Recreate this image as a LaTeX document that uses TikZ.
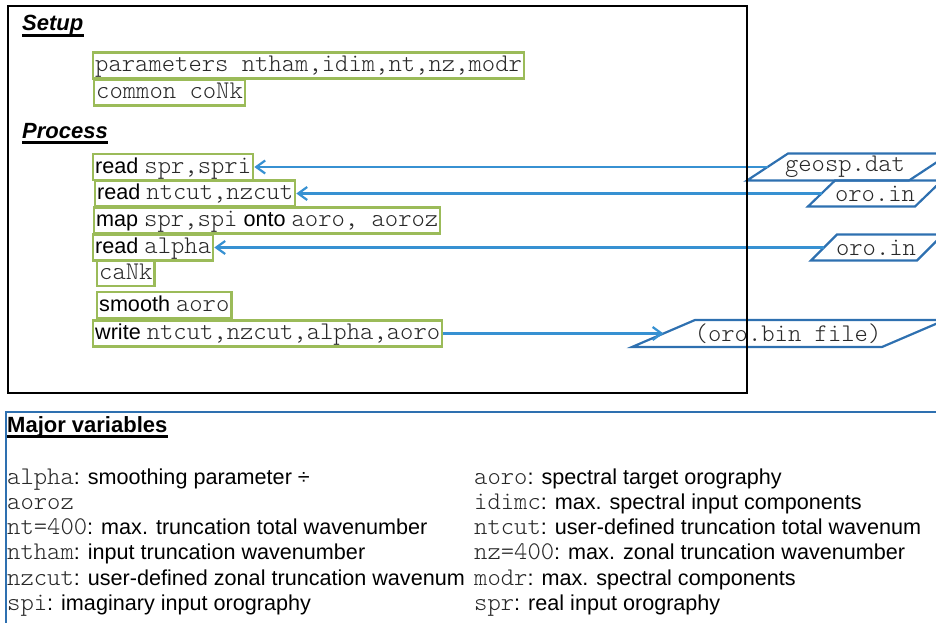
\documentclass[tikz,border=0pt]{standalone}
\usepackage{fontspec}
\setmainfont{Liberation Sans}
\setmonofont{Latin Modern Mono Light}
\usetikzlibrary{arrows.meta}
\definecolor{boxgreen}{RGB}{155,187,89}
\definecolor{flowblue}{RGB}{55,145,210}
\definecolor{fileblue}{RGB}{46,112,176}
\definecolor{codegray}{RGB}{40,40,40}
% code words in a typewriter face
\newcommand\cd[1]{{\ttfamily\fontsize{25.4}{28}\selectfont\color{codegray}#1}}
\begin{document}
\begin{tikzpicture}[x=1pt,y=-1pt,
  every node/.style={font=\fontsize{21.6}{25}\selectfont, inner sep=0pt},
  codebox/.style={draw=boxgreen, line width=2.4pt, inner xsep=2pt, inner ysep=1pt,
    text height=18pt, text depth=6pt, anchor=west},
  heading/.style={font=\bfseries\itshape\fontsize{22}{26}\selectfont, anchor=base west},
  filetext/.style={font=\ttfamily\fontsize{25.4}{28}\selectfont, text=codegray},
  fileshape/.style={draw=fileblue, line width=2.2pt, line join=miter},
  flow/.style={draw=flowblue, line width=2.2pt, -{Straight Barb[length=9pt,width=13pt]}},
  var/.style={anchor=base west}]
\useasboundingbox (0,0) rectangle (936,623);
\clip (0,0) rectangle (936,623);

% ---- headings ----
\node[heading] (setup) at (22,31) {Setup};
\node[heading] (process) at (22,138) {Process};
\foreach \h in {setup,process}
  \draw[line width=2.6pt] ([yshift=-4.5pt]\h.base west) -- ([yshift=-4.5pt]\h.base east);

% ---- setup statements ----
\node[codebox] (param) at (92,65.5) {\cd{parameters ntham,idim,nt,nz,modr}};
\node[codebox] (common) at (93,92.5) {\cd{common coNk}};

% ---- process statements ----
\node[codebox] (read1) at (92,167) {read \cd{spr,spri}};
\node[codebox] (read2) at (94,193.5) {read \cd{ntcut,nzcut}};
\node[codebox] (map) at (93,220.5) {map \cd{spr,spi} onto \cd{aoro, aoroz}};
\node[codebox] (read3) at (92,247.5) {read \cd{alpha}};
\node[codebox] (cank) at (96,273) {\cd{caNk}};
\node[codebox] (smooth) at (96,305) {smooth \cd{aoro}};
\node[codebox] (write) at (92,333.5) {write \cd{ntcut,nzcut,alpha,aoro}};

% ---- files (parallelograms) ----
\draw[fileshape] (747,180.5) -- (788,153.5) -- (950,153.5) -- (909,180.5) -- cycle;
\coordinate (geoL) at (767.5,167);
\node[filetext] (geo) at (845,167) {geosp.dat};

\draw[fileshape] (808,206.5) -- (835,180.5) -- (942,180.5) -- (915,206.5) -- cycle;
\coordinate (oroaL) at (821.5,193.5);
\node[filetext] (oroa) at (875,193.5) {oro.in};

\draw[fileshape] (811,260.5) -- (837,234.5) -- (943,234.5) -- (917,260.5) -- cycle;
\coordinate (orobL) at (824,247.5);
\node[filetext] (orob) at (876,247.5) {oro.in};

\draw[fileshape] (632,347) -- (695,320) -- (945,320) -- (882,347) -- cycle;
\coordinate (orobinL) at (663.5,333.5);
\node[filetext] (orobin) at (788,333.5) {(oro.bin file)};

% ---- data flow ----
\draw[flow] (geoL) -- (read1.east);
\draw[flow] (oroaL) -- (read2.east);
\draw[flow] (orobL) -- (read3.east);
\draw[flow] (write.east) -- (orobinL);

% ---- main frame ----
\draw[line width=2.4pt] (8,6) rectangle (747,393);

% ---- variable list ----
\draw[fileblue, line width=2.2pt] (6,640) -- (6,412) -- (950,412);
\node[font=\bfseries\fontsize{22}{26}\selectfont, anchor=base west] (major) at (7,432) {Major variables};
\draw[line width=2.6pt] ([yshift=-4.5pt]major.base west) -- ([yshift=-4.5pt]major.base east);

\node[var] (v1) at (7,484) {\cd{alpha}: smoothing parameter ÷};
\node[var] (v2) at (7,509.3) {\cd{aoroz}};
\node[var] (v3) at (7,534.6) {\cd{nt=400}: max. truncation total wavenumber};
\node[var] (v4) at (7,559.9) {\cd{ntham}: input truncation wavenumber};
\node[var] (v5) at (7,585.2) {\cd{nzcut}: user-defined zonal truncation wavenum};
\node[var] (v6) at (7,610.5) {\cd{spi}: imaginary input orography};

\node[var] (w1) at (474,484) {\cd{aoro}: spectral target orography};
\node[var] (w2) at (474,509.3) {\cd{idimc}: max. spectral input components};
\node[var] (w3) at (474,534.6) {\cd{ntcut}: user-defined truncation total wavenum};
\node[var] (w4) at (474,559.9) {\cd{nz=400}: max. zonal truncation wavenumber};
\node[var] (w5) at (474,585.2) {\cd{modr}: max. spectral components};
\node[var] (w6) at (474,610.5) {\cd{spr}: real input orography};
\end{tikzpicture}
\end{document}
